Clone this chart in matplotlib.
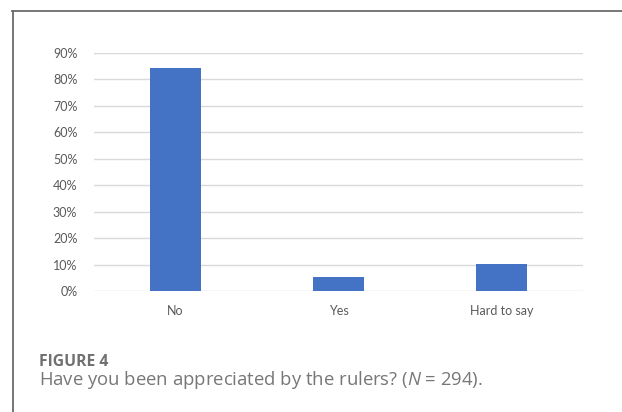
import matplotlib
matplotlib.use("Agg")
import matplotlib.pyplot as plt
from matplotlib.lines import Line2D

categories = ["No", "Yes", "Hard to say"]
values = [84.35, 5.44, 10.20]
yticks = [0, 10, 20, 30, 40, 50, 60, 70, 80, 90]
ytick_labels = [f"{t}%" for t in yticks]
caption_title = "FIGURE 4"
caption_text = "Have you been appreciated by the rulers? ("
caption_n = "N"
caption_rest = " = 294)."

W, H = 622, 412
fig = plt.figure(figsize=(W / 100, H / 100), dpi=100)
fig.patch.set_facecolor("white")

# frame lines (top and left)
fig.add_artist(Line2D([12 / W, 1.0], [1 - 10.5 / H, 1 - 10.5 / H], color="#6b6b6b", lw=1.3))
fig.add_artist(Line2D([12.5 / W, 12.5 / W], [0, 1 - 10.5 / H], color="#6b6b6b", lw=1.3))

ax = fig.add_axes([94 / W, 121 / H, (583 - 94) / W, (291 - 53) / H])
x = list(range(len(categories)))
ax.bar(x, values, width=0.313, color="#4472C4", zorder=3)
ax.set_xlim(-0.5, len(categories) - 0.5)
ax.set_ylim(0, 90)
ax.set_yticks(yticks)
ax.set_yticklabels(ytick_labels)
ax.set_xticks(x)
ax.set_xticklabels(categories)
ax.grid(axis="y", color="#d9d9d9", lw=1.0, zorder=0)
ax.set_axisbelow(True)
for s in ax.spines.values():
    s.set_visible(False)
ax.tick_params(axis="both", length=0, labelsize=9, labelcolor="#595959")
ax.tick_params(axis="y", pad=12)
ax.tick_params(axis="x", pad=10)
for lab in ax.get_xticklabels() + ax.get_yticklabels():
    lab.set_fontfamily("Lato")

# caption
fig.text(39 / W, 1 - 362.5 / H, caption_title, fontsize=11.3, fontweight="bold",
         color="#707070", family="Open Sans", va="center", ha="left")
plt.rcParams["mathtext.fontset"] = "custom"
plt.rcParams["mathtext.it"] = "Open Sans:italic"
plt.rcParams["mathtext.rm"] = "Open Sans"
full = caption_text + "$\\it{" + caption_n + "}$" + caption_rest
fig.text(39 / W, 1 - 380 / H, full, fontsize=13.3, color="#777777",
         family="Open Sans", va="center", ha="left")

fig.savefig("out.png", dpi=100, facecolor="white")
